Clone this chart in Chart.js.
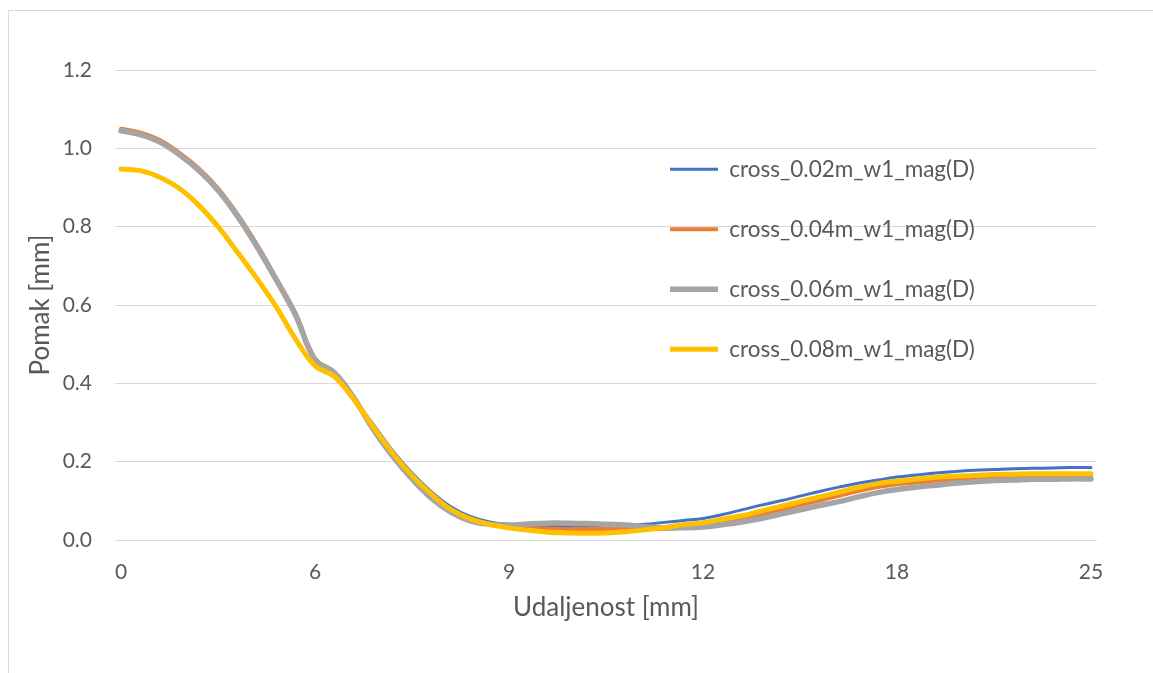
<!DOCTYPE html>
<html>
  <head>
    <title>Pomak - udaljenost</title>
    <script src="https://cdn.jsdelivr.net/npm/chart.js@4"></script>
    <style>
      body { margin: 0; overflow: hidden; background: white; }
      #frame { position: absolute; left: 8px; top: 10px; width: 1200px; height: 700px; border: 1px solid #d9d9d9; }
      #chart { position: absolute; left: 0; top: 0; }
    </style>
    <script>
      // Axis labels (Excel category axis, a label every 10 samples)
      const distanceLabels = ["0", "6", "9", "12", "18", "25"]
      const labelPositions = [0, 10, 20, 30, 40, 50]

      const seriesNames = [
        "cross_0.02m_w1_mag(D)",
        "cross_0.04m_w1_mag(D)",
        "cross_0.06m_w1_mag(D)",
        "cross_0.08m_w1_mag(D)",
      ]

      // Displacement [mm], 51 samples along the path
      const cross002 = [
        1.047, 1.036, 1.016, 0.984, 0.944, 0.893, 0.827, 0.750, 0.664, 0.574,
        0.460, 0.424, 0.362, 0.295, 0.228, 0.171, 0.123, 0.085, 0.060, 0.046,
        0.040, 0.038, 0.037, 0.036, 0.036, 0.036, 0.037, 0.040, 0.045, 0.050,
        0.055, 0.065, 0.077, 0.089, 0.100, 0.112, 0.124, 0.135, 0.145, 0.153,
        0.161, 0.166, 0.171, 0.175, 0.178, 0.180, 0.182, 0.183, 0.184, 0.185,
        0.185,
      ]
      const cross004 = [
        1.050, 1.040, 1.021, 0.989, 0.949, 0.898, 0.832, 0.755, 0.669, 0.579,
        0.464, 0.428, 0.360, 0.288, 0.220, 0.162, 0.113, 0.076, 0.052, 0.039,
        0.033, 0.030, 0.029, 0.028, 0.028, 0.028, 0.028, 0.028, 0.029, 0.032,
        0.037, 0.045, 0.054, 0.065, 0.077, 0.089, 0.101, 0.113, 0.125, 0.135,
        0.142, 0.147, 0.151, 0.155, 0.157, 0.159, 0.160, 0.161, 0.162, 0.162,
        0.162,
      ]
      const cross006 = [
        1.045, 1.035, 1.016, 0.984, 0.944, 0.893, 0.827, 0.750, 0.664, 0.574,
        0.460, 0.427, 0.363, 0.283, 0.214, 0.156, 0.107, 0.071, 0.049, 0.040,
        0.038, 0.041, 0.043, 0.043, 0.042, 0.040, 0.038, 0.034, 0.031, 0.031,
        0.033, 0.039, 0.046, 0.055, 0.066, 0.077, 0.088, 0.098, 0.110, 0.121,
        0.129, 0.135, 0.140, 0.145, 0.149, 0.152, 0.153, 0.155, 0.155, 0.156,
        0.156,
      ]
      const cross008 = [
        0.947, 0.943, 0.926, 0.898, 0.855, 0.800, 0.735, 0.668, 0.595, 0.513,
        0.445, 0.417, 0.359, 0.289, 0.222, 0.165, 0.117, 0.078, 0.054, 0.040,
        0.031, 0.025, 0.020, 0.018, 0.017, 0.018, 0.021, 0.026, 0.032, 0.039,
        0.044, 0.053, 0.062, 0.074, 0.086, 0.098, 0.110, 0.122, 0.134, 0.144,
        0.150, 0.155, 0.160, 0.163, 0.165, 0.167, 0.168, 0.169, 0.169, 0.169,
        0.169,
      ]

      const seriesColors = ["#4472c4", "#ed7d31", "#a5a5a5", "#ffc000"]
      const seriesWidths = [3, 4, 5.5, 5]

      addEventListener("DOMContentLoaded", () => {
        const textColor = "#595959"
        const font = "Lato"

        const toPoints = values => values.map((y, x) => ({ x, y }))

        const datasets = [cross002, cross004, cross006, cross008].map((values, i) => ({
          label: seriesNames[i],
          data: toPoints(values),
          borderColor: seriesColors[i],
          backgroundColor: seriesColors[i],
          borderWidth: seriesWidths[i],
          borderCapStyle: "round",
          borderJoinStyle: "round",
          pointRadius: 0,
          pointStyle: "line",
          tension: 0.4,
          order: 4 - i, // later series on top, like Excel
        }))

        // put the legend where Excel had it, inside the plot
        const legendPlacement = {
          id: "legendPlacement",
          afterLayout(chart) {
            const legend = chart.legend
            const pad = legend.options.labels.padding
            legend.left = 670 - pad
            legend.top = 158 - pad
            legend.right = legend.left + 420
            legend.bottom = legend.top + 400
            legend.width = 420
            legend.height = 400
          },
        }

        new Chart(document.getElementById("chart"), {
          type: "line",
          data: { datasets },
          plugins: [legendPlacement],
          options: {
            responsive: false,
            animation: false,
            devicePixelRatio: 1,
            layout: { padding: { top: 70, right: 56, left: 0, bottom: 0 } },
            plugins: {
              tooltip: { enabled: false },
              legend: {
                position: "chartArea",
                align: "start",
                labels: {
                  usePointStyle: true,
                  pointStyle: "line",
                  pointStyleWidth: 48,
                  padding: 37.5,
                  color: textColor,
                  font: { family: font, size: 22.5 },
                  sort: (a, b) => a.datasetIndex - b.datasetIndex,
                },
              },
            },
            scales: {
              x: {
                type: "linear",
                min: -0.31,
                max: 50.31,
                grid: { display: false },
                border: { display: false },
                afterBuildTicks(scale) {
                  scale.ticks = labelPositions.map(value => ({ value }))
                },
                afterFit(scale) { scale.height = 133 },
                ticks: {
                  padding: 12,
                  maxRotation: 0,
                  color: textColor,
                  font: { family: font, size: 21 },
                  callback: (value, index) => distanceLabels[index],
                },
                title: {
                  display: true,
                  text: "Udaljenost [mm]",
                  color: textColor,
                  font: { family: font, size: 26 },
                  padding: { top: 0, bottom: 50 },
                },
              },
              y: {
                min: 0,
                max: 1.2,
                grid: { color: "#d9d9d9", drawTicks: false },
                border: { display: false },
                afterFit(scale) { scale.width = 115 },
                ticks: {
                  stepSize: 0.2,
                  padding: 23,
                  color: textColor,
                  font: { family: font, size: 21 },
                  callback: value => value.toFixed(1),
                },
                title: {
                  display: true,
                  text: "Pomak [mm]",
                  color: textColor,
                  font: { family: font, size: 26 },
                  padding: { top: 25, bottom: 0 },
                },
              },
            },
          },
        })
      })
    </script>
  </head>
  <body>
    <div id="frame"></div>
    <canvas id="chart" width="1153" height="673"></canvas>
  </body>
</html>
